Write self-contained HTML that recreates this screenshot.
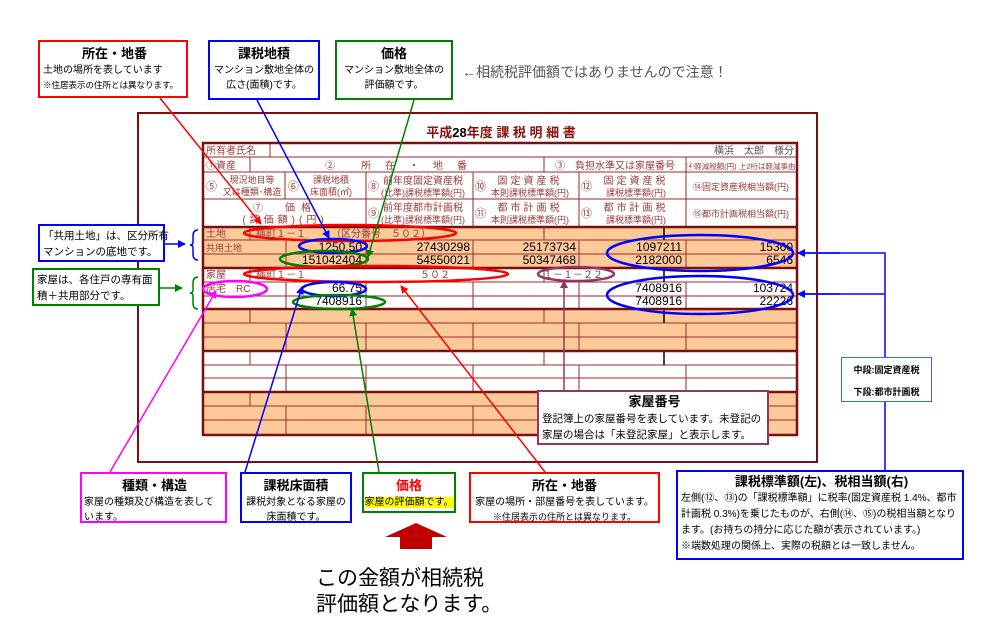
<!DOCTYPE html>
<html><head><meta charset="utf-8">
<style>
html,body{margin:0;padding:0;background:#fff;}
body{width:1004px;height:626px;overflow:hidden;position:relative;font-family:"Liberation Sans","Noto Sans CJK JP",sans-serif;}
svg{position:absolute;left:0;top:0;}
.box{position:absolute;box-sizing:border-box;background:#fff;text-align:center;font-size:10px;line-height:15px;color:#000;white-space:normal;}
.box b{display:block;font-size:13px;line-height:18px;margin-top:3px;}
</style></head><body>
<svg width="1004" height="626" viewBox="0 0 1004 626" font-family="Liberation Sans, Noto Sans CJK JP, sans-serif">
<defs>
<marker id="ar" markerWidth="8" markerHeight="8" refX="7" refY="4" orient="auto" markerUnits="userSpaceOnUse"><path d="M0,0 L8,4 L0,8z" fill="red"/></marker>
<marker id="ab" markerWidth="8" markerHeight="8" refX="7" refY="4" orient="auto" markerUnits="userSpaceOnUse"><path d="M0,0 L8,4 L0,8z" fill="#0000ff"/></marker>
<marker id="ag" markerWidth="8" markerHeight="8" refX="7" refY="4" orient="auto" markerUnits="userSpaceOnUse"><path d="M0,0 L8,4 L0,8z" fill="#008000"/></marker>
<marker id="am" markerWidth="8" markerHeight="8" refX="7" refY="4" orient="auto" markerUnits="userSpaceOnUse"><path d="M0,0 L8,4 L0,8z" fill="#ff00ff"/></marker>
<marker id="ap" markerWidth="8" markerHeight="8" refX="7" refY="4" orient="auto" markerUnits="userSpaceOnUse"><path d="M0,0 L8,4 L0,8z" fill="#993366"/></marker>
</defs>
<rect x="138" y="113" width="679" height="349" fill="#fff" stroke="#7a1010" stroke-width="2"/>
<text x="501" y="137" text-anchor="middle" font-size="13" font-weight="bold" fill="#8b1010">平成<tspan fill="#000">28</tspan>年度 課 税 明 細 書</text>
<rect x="203" y="227" width="594" height="41" fill="#fcc998"/>
<rect x="203" y="309" width="594" height="41" fill="#fcc998"/>
<rect x="203" y="392" width="594" height="43" fill="#fcc998"/>
<g stroke="#9b2a2a" stroke-width="1" fill="none">
<line x1="203" y1="157" x2="797" y2="157"/><line x1="203" y1="172" x2="797" y2="172"/><line x1="203" y1="199" x2="797" y2="199"/>
<line x1="203" y1="240" x2="797" y2="240"/><line x1="203" y1="254" x2="797" y2="254"/>
<line x1="203" y1="282" x2="797" y2="282"/><line x1="203" y1="296" x2="797" y2="296"/>
<line x1="203" y1="323" x2="797" y2="323"/><line x1="203" y1="337" x2="797" y2="337"/>
<line x1="203" y1="365" x2="797" y2="365"/><line x1="203" y1="378" x2="797" y2="378"/>
<line x1="203" y1="406" x2="797" y2="406"/><line x1="203" y1="420" x2="797" y2="420"/>
<line x1="270" y1="143" x2="270" y2="157"/>
<line x1="250" y1="157" x2="250" y2="172"/><line x1="544" y1="157" x2="544" y2="172"/><line x1="686" y1="157" x2="686" y2="199"/>
<line x1="285" y1="172" x2="285" y2="199"/><line x1="366" y1="172" x2="366" y2="227"/><line x1="473" y1="172" x2="473" y2="227"/><line x1="579" y1="172" x2="579" y2="227"/><line x1="686" y1="199" x2="686" y2="227"/>
</g>
<g stroke="#9b2a2a" stroke-width="1">
<path d="M250 227V240M544 227V240 M250 268V282M544 268V282 M250 309V323M544 309V323 M250 351V365M544 351V365 M250 392V406M544 392V406"/>
<path d="M286 240V268M366 240V268M473 240V268M579 240V268M686 240V268"/>
<path d="M286 282V309M366 282V309M473 282V309M579 282V309M686 282V309"/>
<path d="M286 323V350M366 323V350M473 323V350M579 323V350M686 323V350"/>
<path d="M286 365V392M366 365V392M473 365V392M579 365V392M686 365V392"/>
<path d="M286 406V435M366 406V435M473 406V435M579 406V435M686 406V435"/>
</g>
<g stroke="#000" stroke-width="1.5"><path d="M664 227V240M664 268V282M664 309V323M664 351V365M664 392V406"/></g>
<g fill="none" stroke="#7a1010" stroke-width="2.5">
<rect x="203" y="143" width="594" height="292"/>
<line x1="203" y1="227" x2="797" y2="227"/><line x1="203" y1="268" x2="797" y2="268"/><line x1="203" y1="309" x2="797" y2="309"/><line x1="203" y1="351" x2="797" y2="351"/><line x1="203" y1="392" x2="797" y2="392"/>
</g>
<g font-size="10" fill="#9b3a3a">
<text x="206" y="154">所有者氏名</text>
<text x="794" y="154" text-anchor="end" fill="#555">横浜　太郎　様分</text>
<text x="206" y="169">①資産</text>
<text x="397" y="169" text-anchor="middle" letter-spacing="2">②　　所　在　・　地　番</text>
<text x="615" y="169" text-anchor="middle">③　負担水準又は家屋番号</text>
<text x="741" y="169" text-anchor="middle" font-size="7.5">④軽減税額(円) 上2桁は軽減事由</text>
<text x="206" y="190" font-size="11">⑤</text><text x="252" y="183" text-anchor="middle" font-size="9">現況地目等</text><text x="252" y="195" text-anchor="middle" font-size="9">又は種類･構造</text>
<text x="288" y="190" font-size="11">⑥</text><text x="331" y="183" text-anchor="middle" font-size="9">課税地積</text><text x="331" y="195" text-anchor="middle" font-size="9">床面積(㎡)</text>
<text x="368" y="190" font-size="11">⑧</text><text x="423" y="184" text-anchor="middle">前年度固定資産税</text><text x="423" y="196" text-anchor="middle" font-size="9">(比準)課税標準額(円)</text>
<text x="475" y="190" font-size="11">⑩</text><text x="530" y="184" text-anchor="middle" letter-spacing="3">固定資産税</text><text x="530" y="196" text-anchor="middle" font-size="9">本則課税標準額(円)</text>
<text x="581" y="190" font-size="11">⑫</text><text x="636" y="184" text-anchor="middle" letter-spacing="3">固定資産税</text><text x="636" y="196" text-anchor="middle" font-size="9">課税標準額(円)</text>
<text x="741" y="190" text-anchor="middle" font-size="9">⑭固定資産税相当額(円)</text>
<text x="285" y="211" text-anchor="middle" letter-spacing="6">⑦　価格</text><text x="285" y="223" text-anchor="middle" letter-spacing="4">(評価額)(円)</text>
<text x="368" y="217" font-size="11">⑨</text><text x="423" y="211" text-anchor="middle">前年度都市計画税</text><text x="423" y="223" text-anchor="middle" font-size="9">(比準)課税標準額(円)</text>
<text x="475" y="217" font-size="11">⑪</text><text x="530" y="211" text-anchor="middle" letter-spacing="3">都市計画税</text><text x="530" y="223" text-anchor="middle" font-size="9">本則課税標準額(円)</text>
<text x="581" y="217" font-size="11">⑬</text><text x="636" y="211" text-anchor="middle" letter-spacing="3">都市計画税</text><text x="636" y="223" text-anchor="middle" font-size="9">課税標準額(円)</text>
<text x="741" y="217" text-anchor="middle" font-size="9">⑮都市計画税相当額(円)</text>
<text x="206" y="237">土地</text><text x="206" y="251" font-size="9">共用土地</text>
<text x="206" y="278">家屋</text><text x="206" y="292">居宅　RC</text>
<text x="256" y="237">横町１－１　　　（区分番号　５０２）</text>
<text x="256" y="278">横町１－１</text>
<text x="420" y="278">５０２</text>
<text x="543" y="278" fill="#555">１－１－２２</text>
</g>
<g font-size="12" fill="#000" text-anchor="end">
<text x="362" y="251">1250.50</text><text x="362" y="264">151042404</text>
<text x="470" y="251">27430298</text><text x="470" y="264">54550021</text>
<text x="576" y="251">25173734</text><text x="576" y="264">50347468</text>
<text x="682" y="251">1097211</text><text x="682" y="264">2182000</text>
<text x="793" y="251">15360</text><text x="793" y="264">6546</text>
<text x="362" y="292">66.75</text><text x="362" y="305">7408916</text>
<text x="682" y="292">7408916</text><text x="682" y="305">7408916</text>
<text x="793" y="292">103724</text><text x="793" y="305">22226</text>
</g>
<g fill="none" stroke-width="2.5">
<ellipse cx="350" cy="233" rx="106" ry="8" stroke="red"/>
<ellipse cx="333" cy="246" rx="34" ry="7" stroke="#0000ff"/>
<ellipse cx="324" cy="259" rx="44" ry="8" stroke="#008000"/>
<ellipse cx="700" cy="253" rx="93" ry="18" stroke="#0000ff"/>
<ellipse cx="376" cy="274" rx="132" ry="8" stroke="red"/>
<ellipse cx="576" cy="274" rx="38" ry="7" stroke="#993366"/>
<ellipse cx="235" cy="289" rx="32" ry="8" stroke="#ff00ff"/>
<ellipse cx="334" cy="289" rx="32" ry="7" stroke="#0000ff"/>
<ellipse cx="339" cy="302" rx="46" ry="7" stroke="#008000"/>
<ellipse cx="700" cy="295" rx="93" ry="19" stroke="#0000ff"/>
</g>
<g stroke-width="1.5" fill="none">
<line x1="160" y1="98" x2="261" y2="224" stroke="red" marker-end="url(#ar)"/>
<line x1="257" y1="100" x2="329" y2="238" stroke="#0000ff" marker-end="url(#ab)"/>
<line x1="414" y1="100" x2="368" y2="257" stroke="#008000" marker-end="url(#ag)"/>
<line x1="110" y1="472" x2="216" y2="291" stroke="#ff00ff" marker-end="url(#am)"/>
<line x1="245" y1="472" x2="302" y2="287" stroke="#0000ff" marker-end="url(#ab)"/>
<line x1="379" y1="472" x2="352" y2="309" stroke="#008000" marker-end="url(#ag)"/>
<line x1="545" y1="472" x2="401" y2="286" stroke="red" marker-end="url(#ar)"/>
<line x1="564" y1="390" x2="564" y2="281" stroke="#993366" marker-end="url(#ap)"/>
<path d="M885 357V253H798M885 294H798M885 402V470" stroke="#0000ff"/>
<line x1="840" y1="253" x2="798" y2="253" stroke="#0000ff" marker-end="url(#ab)"/>
<line x1="840" y1="294" x2="798" y2="294" stroke="#0000ff" marker-end="url(#ab)"/>
<line x1="165" y1="244" x2="185" y2="244" stroke="#0000ff" marker-end="url(#ab)"/>
<line x1="160" y1="288" x2="182" y2="288" stroke="#008000" marker-end="url(#ag)"/>
<path d="M198 230 q-5 0 -5 6 v6 q0 3 -3 3 q3 0 3 3 v6 q0 6 5 6" stroke="#0000ff"/>
<path d="M198 277 q-5 0 -5 6 v7 q0 3 -3 3 q3 0 3 3 v7 q0 6 5 6" stroke="#008000"/>
</g>
<path d="M416 523 L447 537 L432 537 L432 549 L400 549 L400 537 L385 537 Z" fill="#c00000"/>
<text x="462" y="77" font-size="14" fill="#555">←相続税評価額ではありませんので注意！</text>
<text x="316" y="585" font-size="21" fill="#000">この金額が相続税</text>
<text x="316" y="611" font-size="21" fill="#000">評価額となります。</text>
</svg>
<div class="box" style="left:38px;top:40px;width:150px;height:58px;border:2px solid red;text-align:left;padding-left:3px;white-space:nowrap;"><b style="text-align:center">所在・地番</b>土地の場所を表しています<br><span style="font-size:8.5px">※住居表示の住所とは異なります。</span></div>
<div class="box" style="left:208px;top:40px;width:112px;height:60px;border:2px solid #0000ff;"><b>課税地積</b>マンション敷地全体の<br>広さ(面積)です。</div>
<div class="box" style="left:335px;top:40px;width:118px;height:60px;border:2px solid #008000;"><b>価格</b>マンション敷地全体の<br>評価額です。</div>
<div class="box" style="left:38px;top:224px;width:127px;height:38px;border:2px solid #0000ff;font-size:10.5px;line-height:16px;text-align:left;padding:2px 3px;white-space:nowrap;">「共用土地」は、区分所有<br>マンションの底地です。</div>
<div class="box" style="left:32px;top:268px;width:128px;height:38px;border:2px solid #008000;font-size:10.5px;line-height:16px;text-align:left;padding:2px 3px;white-space:nowrap;">家屋は、各住戸の専有面<br>積＋共用部分です。</div>
<div class="box" style="left:537px;top:390px;width:232px;height:55px;border:2px solid #993366;text-align:left;padding-left:3px;line-height:16px;font-size:10.5px;white-space:nowrap;"><b style="text-align:center;margin-top:1px">家屋番号</b>登記簿上の家屋番号を表しています。未登記の<br>家屋の場合は「未登記家屋」と表示します。</div>
<div class="box" style="left:80px;top:472px;width:147px;height:51px;border:2px solid #ff00ff;text-align:left;padding-left:2px;white-space:nowrap;"><b style="text-align:center">種類・構造</b>家屋の種類及び構造を表して<br>います。</div>
<div class="box" style="left:240px;top:472px;width:112px;height:51px;border:2px solid #0000ff;"><b>課税床面積</b>課税対象となる家屋の<br>床面積です。</div>
<div class="box" style="left:362px;top:472px;width:94px;height:41px;border:2px solid #008000;"><b style="color:red">価格</b><span style="background:#ffff00">家屋の評価額です。</span></div>
<div class="box" style="left:469px;top:472px;width:191px;height:51px;border:2px solid red;white-space:nowrap;"><b>所在・地番</b>家屋の場所・部屋番号を表しています。<br><span style="font-size:9px">※住居表示の住所とは異なります。</span></div>
<div class="box" style="left:841px;top:357px;width:91px;height:45px;border:1.5px solid #3366ff;font-size:9px;font-weight:bold;line-height:22px;padding-top:1px;">中段:固定資産税<br>下段:都市計画税</div>
<div class="box" style="left:676px;top:470px;width:288px;height:90px;border:2px solid #0000ff;text-align:left;padding-left:3px;font-size:10px;line-height:16px;"><b style="text-align:center;margin-top:1px">課税標準額(左)、税相当額(右)</b>左側(⑫、⑬)の「課税標準額」に税率(固定資産税 1.4%、都市計画税 0.3%)を乗じたものが、右側(⑭、⑮)の税相当額となります。(お持ちの持分に応じた額が表示されています。)<br>※端数処理の関係上、実際の税額とは一致しません。</div>
</body></html>
